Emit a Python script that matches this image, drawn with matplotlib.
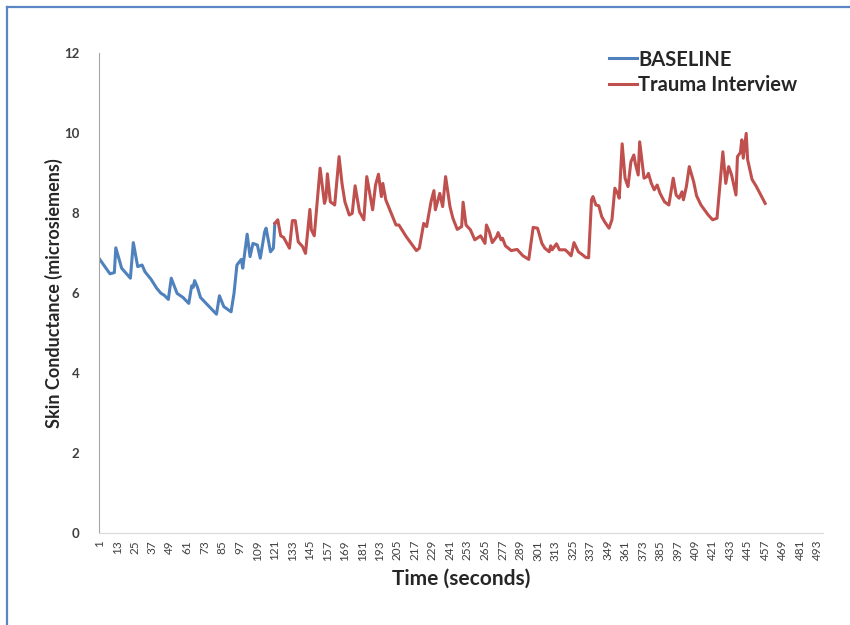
import matplotlib
matplotlib.use("Agg")
import matplotlib.pyplot as plt
from matplotlib.lines import Line2D

plt.rcParams['font.family'] = ['Lato', 'DejaVu Sans']

# baseline segment (time in seconds, skin conductance)
baseline_t = [1, 8, 11, 12, 16, 22, 24, 27, 30, 32, 36, 40, 43, 45, 48, 50, 54, 58,
              62, 64, 65, 66, 68, 70, 76, 81, 83, 86, 91, 93, 95, 98, 99, 102, 104,
              106, 109, 111, 114, 115, 118, 120, 121]
baseline_v = [6.84, 6.48, 6.51, 7.13, 6.62, 6.37, 7.26, 6.66, 6.70, 6.53, 6.35, 6.12,
              5.99, 5.95, 5.84, 6.37, 5.99, 5.89, 5.74, 6.18, 6.14, 6.31, 6.14, 5.89,
              5.66, 5.47, 5.93, 5.66, 5.53, 5.99, 6.70, 6.84, 6.62, 7.47, 6.91, 7.24,
              7.20, 6.87, 7.53, 7.62, 7.03, 7.12, 7.74]

# trauma interview segment
trauma_t = [121, 123, 125, 127, 131, 133, 135, 137, 140, 142, 145, 146, 148, 152, 155,
            156, 157, 159, 162, 165, 167, 169, 172, 174, 176, 179, 182, 184, 186, 188,
            190, 192, 194, 195, 197, 204, 206, 211, 218, 220, 223, 225, 228, 230, 231,
            234, 236, 238, 241, 243, 246, 249, 250, 252, 255, 258, 262, 265, 266, 268,
            270, 273, 274, 276, 277, 279, 283, 287, 291, 295, 298, 301, 304, 306, 309,
            310, 311, 314, 316, 320, 322, 324, 326, 329, 332, 334, 336, 338, 339, 341,
            343, 345, 347, 350, 352, 354, 356, 357, 359, 361, 363, 365, 367, 368, 370,
            371, 374, 376, 377, 379, 381, 383, 385, 388, 391, 394, 396, 398, 400, 401,
            403, 405, 408, 410, 413, 418, 421, 424, 428, 430, 432, 434, 437, 438, 440,
            441, 442, 444, 445, 448, 451, 457]
trauma_v = [7.74, 7.83, 7.43, 7.39, 7.12, 7.81, 7.81, 7.28, 7.16, 6.99, 8.09, 7.58, 7.43,
            9.12, 8.24, 8.37, 8.98, 8.28, 8.20, 9.41, 8.74, 8.28, 7.95, 7.99, 8.68, 8.03,
            7.83, 8.91, 8.49, 8.08, 8.70, 8.97, 8.41, 8.74, 8.33, 7.70, 7.70, 7.41, 7.06,
            7.12, 7.74, 7.66, 8.28, 8.56, 8.08, 8.49, 8.16, 8.91, 8.16, 7.87, 7.59, 7.66,
            8.27, 7.70, 7.58, 7.33, 7.43, 7.24, 7.70, 7.53, 7.26, 7.41, 7.51, 7.33, 7.37,
            7.18, 7.06, 7.09, 6.93, 6.84, 7.64, 7.62, 7.24, 7.12, 7.03, 7.18, 7.08, 7.23,
            7.08, 7.08, 7.01, 6.93, 7.26, 7.03, 6.95, 6.89, 6.88, 8.33, 8.41, 8.20, 8.18,
            7.91, 7.78, 7.62, 7.83, 8.62, 8.48, 8.37, 9.73, 8.87, 8.66, 9.28, 9.45, 9.24,
            8.95, 9.78, 8.87, 8.91, 8.99, 8.74, 8.58, 8.70, 8.49, 8.28, 8.20, 8.87, 8.45,
            8.37, 8.53, 8.33, 8.66, 9.16, 8.78, 8.43, 8.20, 7.95, 7.83, 7.87, 9.53, 8.74,
            9.16, 8.95, 8.45, 9.41, 9.51, 9.83, 9.37, 9.99, 9.33, 8.84, 8.66, 8.24]

x_ticks = list(range(1, 494, 12))
y_ticks = [0, 2, 4, 6, 8, 10, 12]

fig = plt.figure(figsize=(8.5, 6.25), dpi=100)
ax = fig.add_axes([0.1165, 0.1472, 0.8515, 0.768])

ax.plot(baseline_t, baseline_v, color='#4F81BD', lw=2.2, label='BASELINE')
ax.plot(trauma_t, trauma_v, color='#C0504D', lw=2.2, label='Trauma Interview')

ax.set_xlim(0.5, 496.5)
ax.set_ylim(0, 12)
ax.set_xticks(x_ticks)
ax.set_xticklabels([str(t) for t in x_ticks], rotation=90, fontsize=8.5, color='#404040')
ax.set_yticks(y_ticks)
ax.set_yticklabels([str(t) for t in y_ticks], fontsize=9.5, fontweight='bold', color='#404040')
ax.tick_params(axis='both', length=0)
ax.tick_params(axis='y', pad=14)
ax.tick_params(axis='x', pad=5)

for s in ['top', 'right']:
    ax.spines[s].set_visible(False)
ax.spines['left'].set_color('#A6A6A6')
ax.spines['bottom'].set_color('#D9D9D9')

ax.set_xlabel('Time (seconds)', fontsize=15, fontweight='bold', color='#262626', labelpad=6)
ax.set_ylabel('Skin Conductance (microsiemens)', fontsize=13, fontweight='bold',
              color='#262626', labelpad=1)

leg = ax.legend(loc='upper right', bbox_to_anchor=(0.99, 1.045), frameon=False,
                fontsize=14.5, handlelength=1.4, handletextpad=0.08, labelspacing=0.25)
for txt in leg.get_texts():
    txt.set_fontweight('bold')
    txt.set_color('#262626')

# outer frame of the slide
fig.add_artist(Line2D([7 / 850, 7 / 850], [0, 1 - 7 / 625], color='#5B86C5', lw=1.6))
fig.add_artist(Line2D([7 / 850, 1], [1 - 7 / 625, 1 - 7 / 625], color='#5B86C5', lw=1.6))

fig.savefig('out.png', dpi=100)
